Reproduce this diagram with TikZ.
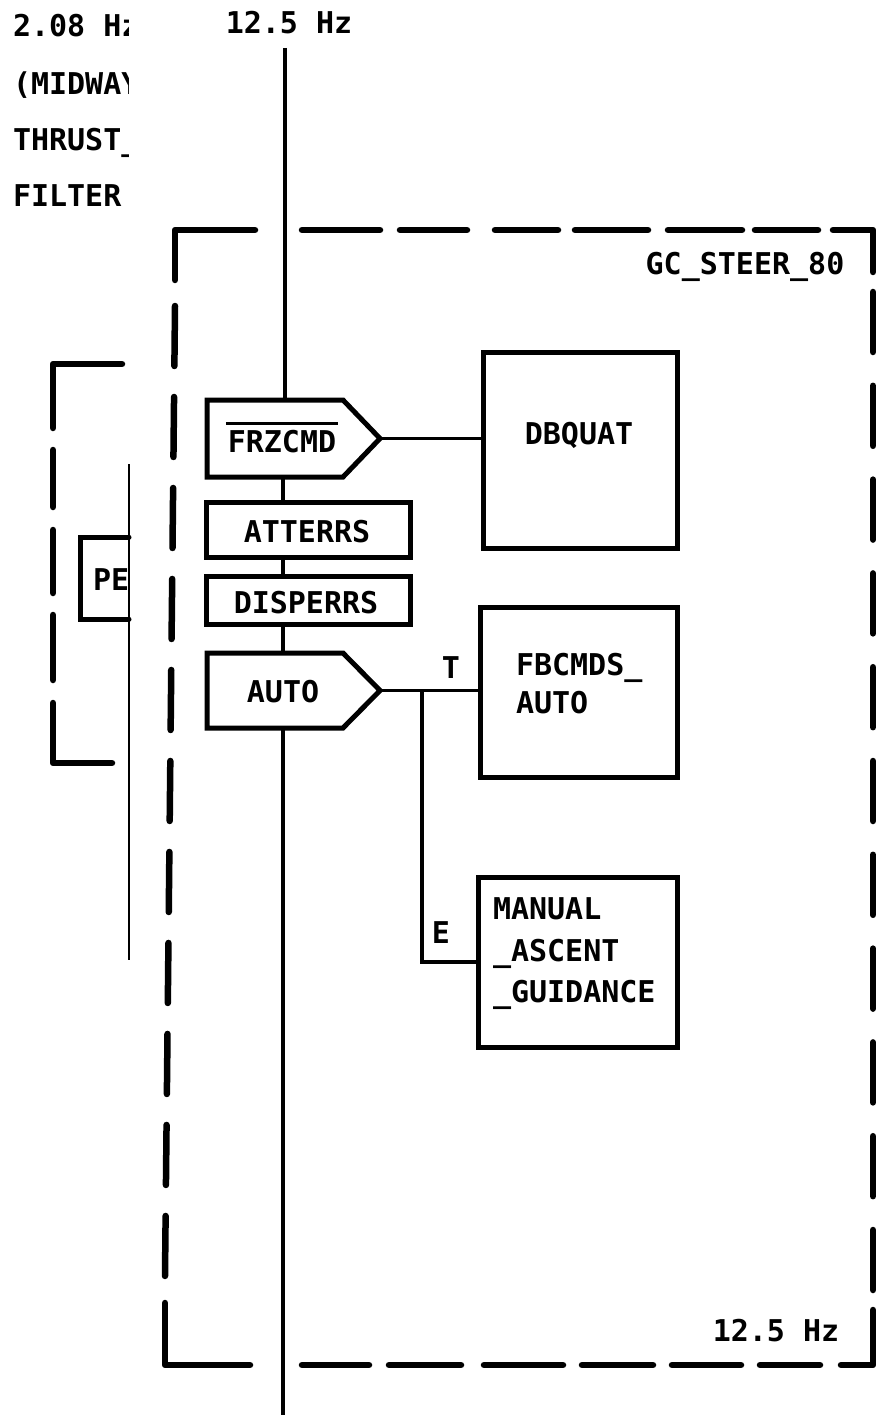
\documentclass[tikz,border=0pt]{standalone}
\usepackage{fontspec}
\newfontfamily\lettering{DejaVu Sans Mono}
\usetikzlibrary{calc}
\begin{document}
\begin{tikzpicture}[x=1pt,y=-1pt,
  txt/.style={font=\lettering\bfseries\fontsize{30}{40}\selectfont, inner sep=0pt, outer sep=0pt},
  boxline/.style={line width=5pt, line join=miter, line cap=round},
  blk/.style={draw, line width=5pt, inner sep=0pt, outer sep=0pt},
  hold/.style={inner sep=0pt, outer sep=0pt},
  wire/.style={line width=3.2pt},
  thinwire/.style={line width=1.6pt},
  dashline/.style={line width=6.5pt, line cap=round, line join=round},
]
\useasboundingbox (0,0) rectangle (886,1420);
\fill[white] (0,0) rectangle (886,1420);

% ---- clipped text at the top left ----
\begin{scope}
\clip (0,0) rectangle (128,230);
\node[txt, anchor=base west] (ta) at (13,37) {2.08 Hz};
\node[txt, anchor=base west] (tb) at (13,95) {(MIDWAY};
\node[txt, anchor=base west] (tc) at (13,151) {THRUST\_};
\node[txt, anchor=base west] (td) at (13,207) {FILTER};
\end{scope}

% ---- partial left dashed box ----
\draw[dashline] (122,364) -- (53,364) -- (53,428);
\draw[dashline] (53,450) -- (53,507);
\draw[dashline] (53,530) -- (53,593);
\draw[dashline] (53,615) -- (53,680);
\draw[dashline] (53,703) -- (53,763) -- (112,763);

% ---- PE box (cut by thin line) ----
\draw[thinwire] (129,464) -- (129,960);
\draw[boxline] (129,537) -- (80,537) -- (80,619) -- (129,619);
\begin{scope}
\clip (60,500) rectangle (128,650);
\node[txt, anchor=base west] (pelbl) at (93,590) {PE};
\end{scope}

% ---- main dashed frame GC_STEER_80 ----
% top edge
\draw[dashline] (175,280) -- (175,230) -- (255,230);
\foreach \a/\b in {302/380,400/467,495/558,575/648,668/742,755/818}
  \draw[dashline] (\a,230) -- (\b,230);
\draw[dashline] (833,230) -- (873,230) -- (873,272);
% left edge
\draw[dashline, dash pattern=on 60pt off 31pt] (175,306) -- (165,1276);
\draw[dashline] (165,1303) -- (165,1365) -- (250,1365);
% right edge
\draw[dashline, dash pattern=on 60pt off 33.8pt] (873,292) -- (873,1290);
% bottom edge
\foreach \a/\b in {302/369,389/461,484/563,582/653,672/741,760/820}
  \draw[dashline] (\a,1365) -- (\b,1365);
\draw[dashline] (841,1365) -- (873,1365) -- (873,1310);

\node[txt, anchor=base] (hztop) at (289,34) {12.5 Hz};
\node[txt, anchor=base] (gclbl) at (745,275) {GC\_STEER\_80};
\node[txt, anchor=base] (hzbot) at (776,1341) {12.5 Hz};

% ---- blocks ----
\node[hold, minimum width=136, minimum height=77] (frz) at (275,438.5) {};
\draw[boxline] (frz.north west) -- (frz.north east) -- ($(frz.east)+(37,0)$) coordinate (frztip)
  -- (frz.south east) -- (frz.south west) -- cycle;
\node[txt, anchor=base] (frzlbl) at (282,452)
  {\makebox[0pt][l]{\hspace*{-2pt}\raisebox{27pt}{\rule{112pt}{3pt}}}FRZCMD};

\node[blk, minimum width=204, minimum height=55] (att) at (308,529.5) {};
\node[txt, anchor=base] (attlbl) at (307,542) {ATTERRS};

\node[blk, minimum width=204, minimum height=48] (dis) at (308,600) {};
\node[txt, anchor=base] (dislbl) at (306,613) {DISPERRS};

\node[hold, minimum width=136, minimum height=75] (auto) at (275,690.5) {};
\draw[boxline] (auto.north west) -- (auto.north east) -- ($(auto.east)+(37,0)$) coordinate (autotip)
  -- (auto.south east) -- (auto.south west) -- cycle;
\node[txt, anchor=base] (autolbl) at (283,702) {AUTO};

\node[blk, minimum width=194, minimum height=196] (dbq) at (580,450) {};
\node[txt, anchor=base] (dbqlbl) at (579,444) {DBQUAT};

\node[blk, minimum width=197, minimum height=170] (fb) at (578.5,692) {};
\node[txt, anchor=north west, align=left, font=\lettering\bfseries\fontsize{30}{38}\selectfont]
  (fblbl) at (516,653) {FBCMDS\_\\AUTO};

\node[blk, minimum width=199, minimum height=170] (man) at (577.5,962) {};
\node[txt, anchor=north west, align=left, font=\lettering\bfseries\fontsize{30}{41.5}\selectfont]
  (manlbl) at (493,898) {MANUAL\\\_ASCENT\\\_GUIDANCE};

\node[txt, anchor=base] (tlbl) at (451,678) {T};
\node[txt, anchor=base] (elbl) at (441,943) {E};

% ---- connectors ----
\coordinate (bustop) at (285,48);
\coordinate (busbot) at (283,1415);
\draw[wire] (bustop) -- (bustop |- frz.north);
\draw[wire] (busbot |- frz.south) -- (busbot |- att.north);
\draw[wire] (busbot |- att.south) -- (busbot |- dis.north);
\draw[wire] (busbot |- dis.south) -- (busbot |- auto.north);
\draw[wire] (busbot |- auto.south) -- (busbot);
\draw[wire] (frztip) -- (frztip -| dbq.west);
\draw[wire] (autotip) -- (autotip -| fb.west);
\coordinate (branch) at ($(autotip)+(42,0)$);
\draw[wire] (branch) |- (man.west);
\end{tikzpicture}
\end{document}
